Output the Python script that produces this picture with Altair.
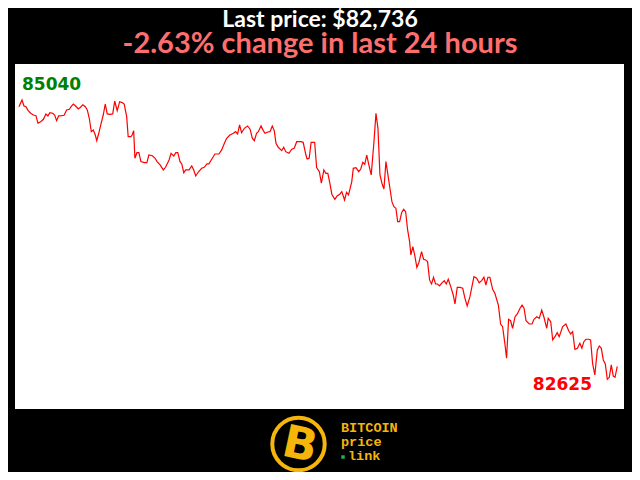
import altair as alt
import pandas as pd

# ---- data ----
hours = [0.00, 0.12, 0.20, 0.28, 0.37, 0.47, 0.58, 0.68, 0.76, 0.87,
         0.98, 1.08, 1.16, 1.24, 1.35, 1.43, 1.51, 1.59, 1.71, 1.81,
         1.91, 2.02, 2.09, 2.18, 2.27, 2.38, 2.47, 2.56, 2.66, 2.74,
         2.82, 2.90, 2.98, 3.06, 3.12, 3.20, 3.28, 3.38, 3.46, 3.54,
         3.65, 3.76, 3.84, 3.94, 4.04, 4.14, 4.22, 4.32, 4.38, 4.49,
         4.54, 4.60, 4.65, 4.73, 4.81, 4.89, 5.03, 5.13, 5.21, 5.35,
         5.46, 5.54, 5.66, 5.79, 5.88, 6.02, 6.10, 6.21, 6.29, 6.37,
         6.46, 6.53, 6.61, 6.69, 6.82, 6.93, 7.01, 7.09, 7.19, 7.33,
         7.43, 7.54, 7.62, 7.73, 7.86, 8.02, 8.13, 8.24, 8.33, 8.46,
         8.60, 8.69, 8.77, 8.85, 8.93, 9.04, 9.17, 9.27, 9.36, 9.44,
         9.53, 9.60, 9.71, 9.80, 9.87, 9.98, 10.07, 10.16, 10.24, 10.31,
         10.40, 10.54, 10.62, 10.70, 10.83, 10.94, 11.04, 11.14, 11.31, 11.40,
         11.51, 11.56, 11.64, 11.72, 11.86, 11.94, 12.05, 12.13, 12.23, 12.31,
         12.39, 12.47, 12.55, 12.67, 12.77, 12.87, 12.95, 13.06, 13.14, 13.22,
         13.35, 13.41, 13.52, 13.63, 13.71, 13.79, 13.87, 13.95, 14.03, 14.13,
         14.24, 14.32, 14.40, 14.48, 14.56, 14.64, 14.72, 14.80, 14.88, 14.96,
         15.04, 15.12, 15.19, 15.27, 15.35, 15.43, 15.51, 15.59, 15.67, 15.72,
         15.80, 15.88, 15.96, 16.04, 16.15, 16.23, 16.31, 16.39, 16.47, 16.55,
         16.63, 16.71, 16.79, 16.87, 16.95, 17.06, 17.14, 17.22, 17.32, 17.42,
         17.49, 17.58, 17.69, 17.80, 17.89, 17.98, 18.09, 18.25, 18.36, 18.46,
         18.56, 18.65, 18.73, 18.81, 18.89, 19.00, 19.09, 19.23, 19.32, 19.40,
         19.49, 19.56, 19.64, 19.72, 19.80, 19.90, 19.99, 20.10, 20.18, 20.26,
         20.34, 20.47, 20.58, 20.66, 20.77, 20.87, 20.97, 21.06, 21.17, 21.23,
         21.33, 21.41, 21.50, 21.59, 21.67, 21.81, 21.94, 22.05, 22.13, 22.21,
         22.30, 22.40, 22.50, 22.58, 22.66, 22.74, 22.85, 22.93, 23.01, 23.10,
         23.20, 23.28, 23.36, 23.44, 23.52, 23.60, 23.68, 23.76, 23.84, 23.91, 24.00]

prices = [84982, 85040, 84988, 84982, 84948, 84925, 84910, 84904, 84839, 84852,
          84873, 84919, 84902, 84930, 84925, 84910, 84861, 84902, 84904, 84908,
          84954, 84960, 84982, 85005, 84988, 84962, 84977, 84999, 84982, 84954,
          84882, 84766, 84781, 84737, 84688, 84752, 84824, 84910, 85005, 84919,
          84916, 84919, 85031, 84948, 85025, 85017, 85005, 84896, 84723, 84723,
          84737, 84775, 84536, 84584, 84584, 84507, 84498, 84498, 84564, 84558,
          84536, 84507, 84478, 84435, 84458, 84521, 84579, 84556, 84584, 84584,
          84507, 84487, 84411, 84435, 84435, 84469, 84435, 84383, 84417, 84449,
          84458, 84487, 84487, 84527, 84573, 84573, 84608, 84666, 84709, 84737,
          84752, 84766, 84746, 84824, 84757, 84795, 84815, 84787, 84709, 84688,
          84752, 84766, 84815, 84775, 84752, 84763, 84766, 84815, 84775, 84666,
          84631, 84602, 84631, 84593, 84579, 84614, 84622, 84679, 84679, 84674,
          84564, 84530, 84536, 84674, 84674, 84455, 84420, 84320, 84435, 84406,
          84406, 84320, 84225, 84181, 84212, 84225, 84247, 84175, 84242, 84219,
          84334, 84449, 84455, 84420, 84443, 84501, 84484, 84564, 84484, 84392,
          84679, 84925, 84795, 84392, 84320, 84270, 84507, 84392, 84277, 84161,
          84117, 84104, 83988, 83988, 84066, 84095, 84074, 83916, 83815, 83700,
          83772, 83691, 83593, 83633, 83728, 83663, 83657, 83642, 83484, 83449,
          83507, 83449, 83449, 83432, 83455, 83478, 83449, 83490, 83426, 83354,
          83276, 83420, 83420, 83412, 83325, 83259, 83339, 83512, 83498, 83460,
          83478, 83507, 83440, 83507, 83507, 83403, 83369, 83267, 83103, 83080,
          82936, 82807, 83144, 83132, 83066, 83166, 83190, 83239, 83267, 83239,
          83132, 83103, 83103, 83144, 83166, 83152, 83224, 83161, 83066, 83152,
          83123, 82965, 82993, 83028, 82993, 83080, 83103, 83045, 83017, 83037,
          82884, 82893, 82936, 82893, 82950, 82971, 82971, 82965, 82763, 82662,
          82878, 82913, 82893, 82792, 82757, 82625, 82642, 82749, 82653, 82642, 82736]

max_price = 85040
min_price = 82625
last_price = 82736
change_pct = -2.63

title_lines = [f"Last price: ${last_price:,}", f"{change_pct:.2f}% change in last 24 hours"]
logo_words = ["BITCOIN", "price", "link"]

df = pd.DataFrame({"hour": hours, "price": prices})

W, H = 609, 345
GOLD = "#f5b50a"

x_enc = alt.X("hour:Q", scale=alt.Scale(domain=[-0.16, 24.27], nice=False, zero=False), axis=None)
y_enc = alt.Y("price:Q", scale=alt.Scale(domain=[82368, 85351], nice=False, zero=False), axis=None)

line = alt.Chart(df).mark_line(color="#ff0000", strokeWidth=1.2).encode(x=x_enc, y=y_enc)


def text_layer(txt, x, y, **kw):
    return alt.Chart(pd.DataFrame({"t": [txt]})).mark_text(**kw).encode(
        text="t:N", x=alt.value(x), y=alt.value(y)
    )


max_lbl = text_layer(str(max_price), 7, 26, align="left", baseline="alphabetic",
                     font="DejaVu Sans", fontWeight="bold", fontSize=17, color="#008000")
min_lbl = text_layer(str(min_price), 577, 326, align="right", baseline="alphabetic",
                     font="DejaVu Sans", fontWeight="bold", fontSize=17, color="#ff0000")

t1 = text_layer(title_lines[0], 305, -37, align="center", baseline="alphabetic",
                font="Lato", fontWeight="bold", fontSize=23, color="white")
t2 = text_layer(title_lines[1], 305, -11.5, align="center", baseline="alphabetic",
                font="Lato", fontWeight="bold", fontSize=29, color="#ff6e6e")

ring = alt.Chart(pd.DataFrame({"a": [1]})).mark_point(
    shape="circle", filled=False, stroke=GOLD, strokeWidth=4, size=2750, opacity=1
).encode(x=alt.value(283.5), y=alt.value(380))

bee = text_layer("B", 285, 381, align="center", baseline="middle", angle=12,
                 font="DejaVu Sans", fontWeight="bold", fontSize=45, color=GOLD)

w1 = text_layer(logo_words[0], 326, 364, align="left", baseline="middle",
                font="Liberation Mono", fontWeight="bold", fontSize=13.5, color=GOLD)
w2 = text_layer(logo_words[1], 326, 378, align="left", baseline="middle",
                font="Liberation Mono", fontWeight="bold", fontSize=13.5, color=GOLD)
w3 = text_layer(logo_words[2], 333, 392, align="left", baseline="middle",
                font="Liberation Mono", fontWeight="bold", fontSize=13.5, color=GOLD)
dot = alt.Chart(pd.DataFrame({"a": [1]})).mark_point(
    shape="square", filled=True, color="#22b14c", size=12, opacity=1
).encode(x=alt.value(328), y=alt.value(393))

chart = alt.layer(line, max_lbl, min_lbl, t1, t2, ring, bee, w1, w2, w3, dot).properties(
    width=W, height=H,
    autosize="none",
    padding={"left": 7, "top": 56, "right": 8, "bottom": 63},
    background="black",
).configure_view(fill="white", strokeWidth=0)

chart.save("out.html", embed_options={"renderer": "svg", "actions": False})
